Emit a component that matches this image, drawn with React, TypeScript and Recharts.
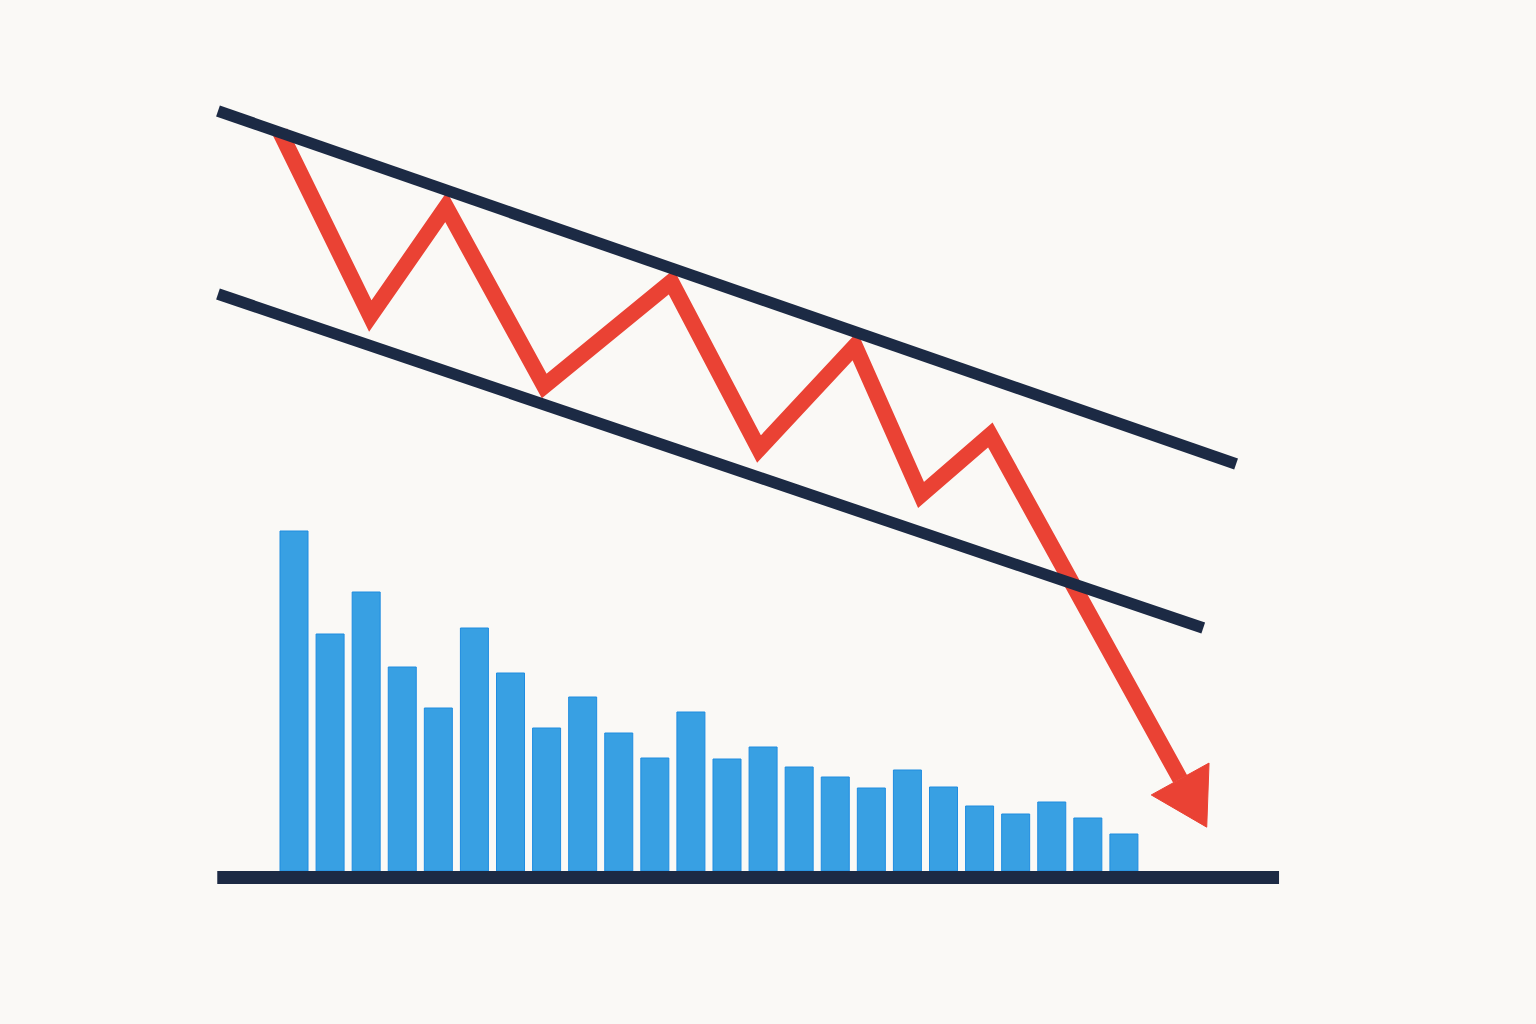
import { ComposedChart, Bar, Line, XAxis, YAxis } from 'recharts';

// bar slots along the time axis
const barIndex = [0, 1, 2, 3, 4, 5, 6, 7, 8, 9, 10, 11, 12, 13, 14, 15, 16, 17, 18, 19, 20, 21, 22, 23];
const volume = [85, 59.25, 69.75, 51, 40.75, 60.75, 49.5, 35.75, 43.5, 34.5, 28.25, 39.75, 28, 31, 26, 23.5, 20.75, 25.25, 21, 16.25, 14.25, 17.25, 13.25, 9.25];

// zigzag price path (last point = base of the arrow head)
const priceX = [-0.39, 2.11, 4.21, 6.93, 10.45, 12.88, 15.54, 17.37, 19.29, 24.55];
const priceY = [89.2, 70.8, 81.7, 63.8, 74.2, 57.5, 67.8, 52.9, 58.9, 24.5];

// channel lines
const upperX = [-2.11, 26.1];
const upperY = [91.3, 56.0];
const lowerX = [-2.11, 25.19];
const lowerY = [73.0, 39.6];

// ground line under the volume bars
const groundX = [-2.13, 27.29];
const groundV = [-1.6, -1.6];

const NAVY = '#1c2a44';
const RED = '#ea4234';
const BLUE = '#38a0e3';

const barData = barIndex.map((x, i) => ({ x, v: volume[i] }));
const priceData = priceX.map((x, i) => ({ x, p: priceY[i] }));
const upperData = upperX.map((x, i) => ({ x, p: upperY[i] }));
const lowerData = lowerX.map((x, i) => ({ x, p: lowerY[i] }));
const groundData = groundX.map((x, i) => ({ x, v: groundV[i] }));

function ArrowDot(props: any) {
  const { cx, cy, index, points } = props;
  if (index !== priceData.length - 1 || cx == null) return <g key={`d-${index}`} />;
  let ux = 0.483;
  let uy = 0.875;
  if (points && points.length > 1) {
    const prev = points[points.length - 2];
    const dx = cx - prev.x;
    const dy = cy - prev.y;
    const len = Math.sqrt(dx * dx + dy * dy) || 1;
    ux = dx / len;
    uy = dy / len;
  }
  const head = 55;
  const half = 33;
  const tip = [cx + ux * head, cy + uy * head];
  const a = [cx - uy * half, cy + ux * half];
  const b = [cx + uy * half, cy - ux * half];
  return (
    <polygon
      key={`d-${index}`}
      points={`${tip[0]},${tip[1]} ${a[0]},${a[1]} ${b[0]},${b[1]}`}
      fill={RED}
      stroke={RED}
      strokeWidth={1}
      strokeLinejoin="miter"
    />
  );
}

export default function App() {
  return (
    <div style={{ position: 'absolute', left: 0, top: 0, width: 1536, height: 1024, background: '#faf9f6' }}>
      <ComposedChart width={1536} height={1024} data={barData} margin={{ top: 0, right: 0, bottom: 0, left: 0 }}>
        <XAxis xAxisId="bars" dataKey="x" type="category" padding={{ left: 276, right: 394 }} hide />
        <XAxis xAxisId="num" dataKey="x" type="number" domain={[-8.15, 34.41]} allowDataOverflow hide />
        <YAxis yAxisId="price" type="number" domain={[0, 102.4]} allowDataOverflow hide />
        <YAxis yAxisId="vol" type="number" domain={[-38.25, 217.75]} allowDataOverflow hide />
        <Bar
          xAxisId="bars"
          yAxisId="vol"
          dataKey="v"
          barSize={28}
          fill={BLUE}
          stroke="#1f8ce0"
          strokeWidth={1}
          isAnimationActive={false}
        />
        <Line
          xAxisId="num"
          yAxisId="vol"
          data={groundData}
          dataKey="v"
          type="linear"
          stroke={NAVY}
          strokeWidth={13}
          strokeLinecap="butt"
          dot={false}
          activeDot={false}
          isAnimationActive={false}
        />
        <Line
          xAxisId="num"
          yAxisId="price"
          data={priceData}
          dataKey="p"
          type="linear"
          stroke={RED}
          strokeWidth={16}
          strokeLinejoin="miter"
          strokeLinecap="butt"
          dot={(p: any) => <ArrowDot {...p} key={`d-${p.index}`} />}
          activeDot={false}
          isAnimationActive={false}
        />
        <Line
          xAxisId="num"
          yAxisId="price"
          data={upperData}
          dataKey="p"
          type="linear"
          stroke={NAVY}
          strokeWidth={11.5}
          strokeLinecap="butt"
          dot={false}
          activeDot={false}
          isAnimationActive={false}
        />
        <Line
          xAxisId="num"
          yAxisId="price"
          data={lowerData}
          dataKey="p"
          type="linear"
          stroke={NAVY}
          strokeWidth={11.5}
          strokeLinecap="butt"
          dot={false}
          activeDot={false}
          isAnimationActive={false}
        />
      </ComposedChart>
    </div>
  );
}
